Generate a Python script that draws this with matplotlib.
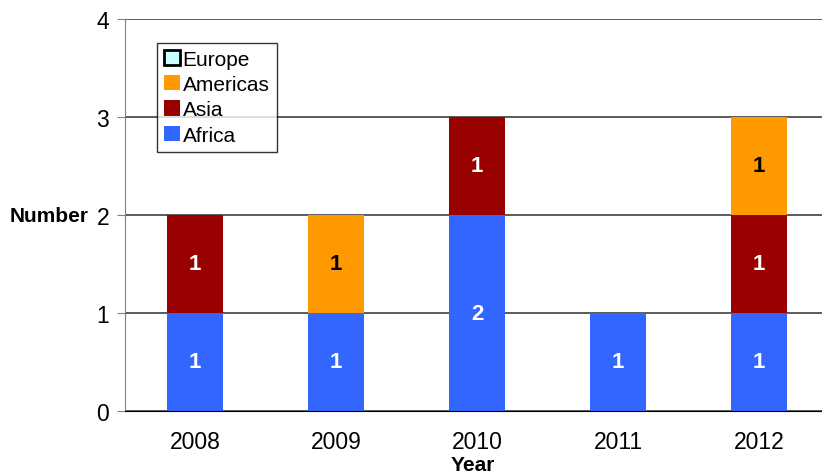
import matplotlib.pyplot as plt
from matplotlib.patches import Patch
import numpy as np

plt.rcParams['font.family'] = ['Liberation Sans', 'DejaVu Sans']

years = ["2008", "2009", "2010", "2011", "2012"]
africa = [1, 1, 2, 1, 1]
asia = [1, 0, 1, 0, 1]
americas = [0, 1, 0, 0, 1]
europe = [0, 0, 0, 0, 0]

series = [
    ("Africa", africa, "#3366FF", "white"),
    ("Asia", asia, "#990000", "white"),
    ("Americas", americas, "#FF9900", "black"),
    ("Europe", europe, "#CCFFFF", "black"),
]

fig = plt.figure(figsize=(8.22, 4.77), dpi=100)
ax = fig.add_axes([124.5 / 822, 65 / 477, 1 - 124.5 / 822, 392 / 477])

x = np.arange(len(years))
bottom = np.zeros(len(years))
for name, vals, color, tcolor in series:
    vals = np.array(vals, dtype=float)
    ax.bar(x, vals, 0.4, bottom=bottom, color=color, zorder=3)
    for xi, v, b in zip(x, vals, bottom):
        if v > 0:
            ax.text(xi, b + v / 2, str(int(v)), ha="center", va="center",
                    color=tcolor, fontsize=16, fontweight="bold", zorder=4)
    bottom += vals

ax.set_xlim(-0.5, 4.447)
ax.set_ylim(0, 4)
ax.set_yticks([0, 1, 2, 3, 4])
ax.set_xticks(x)
ax.set_xticklabels(years)
ax.tick_params(axis="both", labelsize=16.5)
ax.tick_params(axis="x", length=0, pad=14)
ax.tick_params(axis="y", length=6, color="#808080", pad=5)
ax.grid(axis="y", color="#404040", linewidth=1.2, zorder=0)

for s in ["top", "right"]:
    ax.spines[s].set_visible(False)
ax.spines["left"].set_color("#808080")
ax.spines["bottom"].set_color("black")
ax.spines["bottom"].set_zorder(5)

ax.set_xlabel("Year", fontsize=15, fontweight="bold", labelpad=1)
ax.set_ylabel("Number", fontsize=15, fontweight="bold", rotation=0,
              ha="right", va="center")
ax.yaxis.set_label_coords(-0.052, 0.5)

handles = [
    Patch(facecolor="#CCFFFF", edgecolor="black", linewidth=2, label="Europe"),
    Patch(facecolor="#FF9900", label="Americas"),
    Patch(facecolor="#990000", label="Asia"),
    Patch(facecolor="#3366FF", label="Africa"),
]
leg = ax.legend(handles=handles, loc="upper left", bbox_to_anchor=(0.046, 0.94),
                fontsize=15, frameon=True, fancybox=False, edgecolor="black",
                handlelength=0.75, handleheight=0.75, handletextpad=0.15,
                labelspacing=0.3, borderpad=0.35, borderaxespad=0)
leg.get_frame().set_linewidth(1)
leg.set_zorder(6)

fig.savefig("out.png", dpi=100)
